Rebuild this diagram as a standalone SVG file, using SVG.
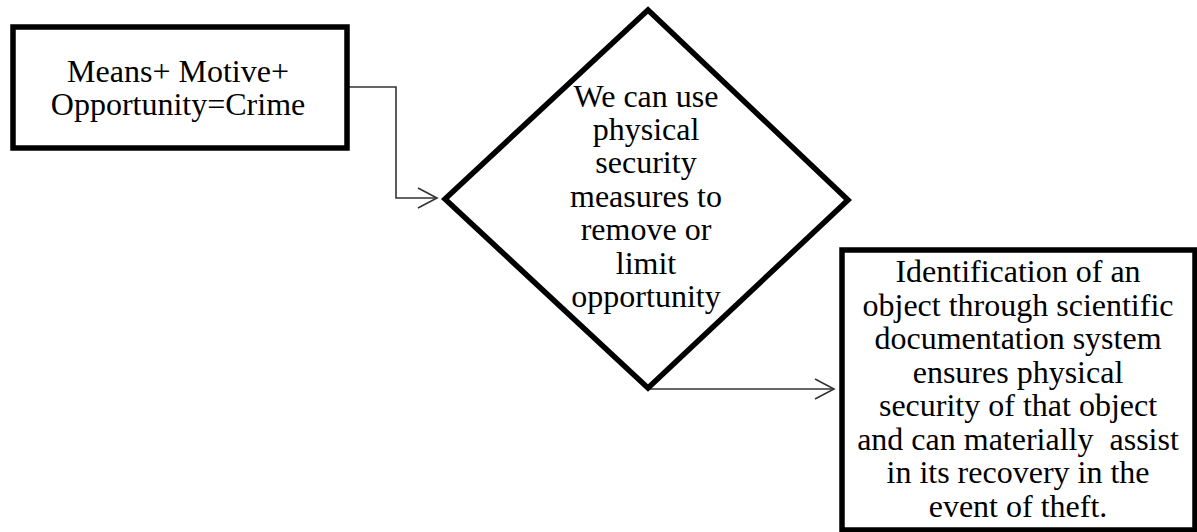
<svg xmlns="http://www.w3.org/2000/svg" width="1197" height="532" viewBox="0 0 1197 532">
<style>
.shape{fill:#fff;stroke:#000;stroke-width:5.5;stroke-linejoin:miter}
.t{font-family:'Liberation Serif','DejaVu Serif',serif;font-size:32px;fill:#000;text-anchor:middle;white-space:pre}
.conn{fill:none;stroke:#333;stroke-width:1.6}
</style>
<defs>
<marker id="arr" markerWidth="22" markerHeight="24" refX="20" refY="11" orient="auto" markerUnits="userSpaceOnUse">
<path d="M1,1 L20,11 L1,21" fill="none" stroke="#333" stroke-width="1.6"/>
</marker>
</defs>
<rect width="1197" height="532" fill="#fff"/>
<g id="connectors">
<path class="conn" d="M347,87 H396 V198 H437" marker-end="url(#arr)"/>
<path class="conn" d="M648,389 H834" marker-end="url(#arr)"/>
</g>
<g id="node-crime">
<rect class="shape" x="13" y="27" width="334" height="121"/>
<text class="t" x="178" y="82">Means+ Motive+</text>
<text class="t" x="178" y="115">Opportunity=Crime</text>
</g>
<g id="node-security">
<polygon class="shape" points="648,10 848,200 648,388 445,199"/>
<text class="t" x="646" y="107">We can use</text>
<text class="t" x="646" y="140">physical</text>
<text class="t" x="646" y="173">security</text>
<text class="t" x="646" y="207">measures to</text>
<text class="t" x="646" y="240">remove or</text>
<text class="t" x="646" y="274">limit</text>
<text class="t" x="646" y="307">opportunity</text>
</g>
<g id="node-identification">
<rect class="shape" x="842" y="250" width="353" height="280"/>
<text class="t" x="1018" y="282">Identification of an</text>
<text class="t" x="1018" y="316">object through scientific</text>
<text class="t" x="1018" y="349">documentation system</text>
<text class="t" x="1018" y="383">ensures physical</text>
<text class="t" x="1018" y="416">security of that object</text>
<text class="t" x="1018" y="450">and can materially  assist</text>
<text class="t" x="1018" y="483">in its recovery in the</text>
<text class="t" x="1018" y="517">event of theft.</text>
</g>
</svg>
